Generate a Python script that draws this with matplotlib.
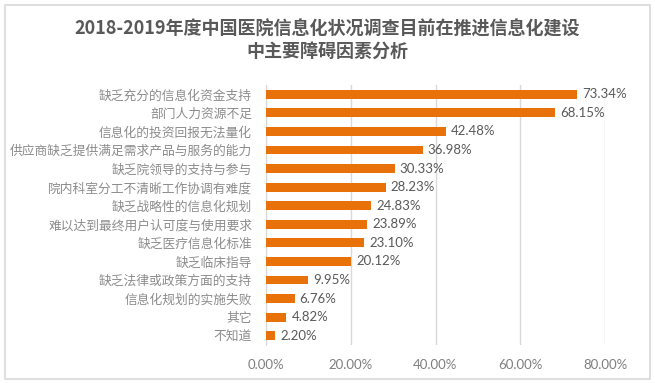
import matplotlib.pyplot as plt
from matplotlib.patches import FancyBboxPatch
from matplotlib.ticker import FuncFormatter

plt.rcParams['font.family'] = ['Noto Sans CJK SC', 'DejaVu Sans']

categories = ['缺乏充分的信息化资金支持', '部门人力资源不足', '信息化的投资回报无法量化',
              '供应商缺乏提供满足需求产品与服务的能力', '缺乏院领导的支持与参与',
              '院内科室分工不清晰工作协调有难度', '缺乏战略性的信息化规划',
              '难以达到最终用户认可度与使用要求', '缺乏医疗信息化标准', '缺乏临床指导',
              '缺乏法律或政策方面的支持', '信息化规划的实施失败', '其它', '不知道']
values = [73.34, 68.15, 42.48, 36.98, 30.33, 28.23, 24.83, 23.89, 23.10, 20.12,
          9.95, 6.76, 4.82, 2.20]
xticks = [0, 20, 40, 60, 80]

fig = plt.figure(figsize=(6.55, 3.83), dpi=100)
W, H = 655, 383

# outer frame
fig.patches.append(FancyBboxPatch((5 / W, 4 / H), 645 / W, 374 / H,
                                  boxstyle='square,pad=0', transform=fig.transFigure,
                                  fill=False, edgecolor='#d9d9d9', linewidth=1.2))

ax = fig.add_axes([266 / W, 1 - 345 / H, (605 - 266) / W, (345 - 85) / H])

y = list(range(len(categories)))
ax.barh(y, values, height=0.47, color='#E8710A', zorder=3)
for yi, v in zip(y, values):
    ax.text(v + 1.2, yi, f'{v:.2f}%', va='center', ha='left', fontsize=9.5,
            color='#595959', family=['Lato'])

ax.set_ylim(len(categories) - 0.5, -0.5)
ax.set_xlim(0, 80)
ax.set_yticks(y)
ax.set_yticklabels(categories, fontsize=9.2, color='#8c8c8c')
ax.set_xticks(xticks)
ax.xaxis.set_major_formatter(FuncFormatter(lambda v, p: f'{v:.2f}%'))
ax.tick_params(axis='x', length=0, labelsize=9.5, labelcolor='#7f7f7f', pad=10)
ax.tick_params(axis='y', length=0, pad=10)
for lbl in ax.get_xticklabels():
    lbl.set_family(['Lato'])
ax.grid(axis='x', color='#d9d9d9', linewidth=1, zorder=0)
for s in ['top', 'right', 'bottom']:
    ax.spines[s].set_visible(False)
ax.spines['left'].set_color('#d9d9d9')

fig.text(0.5, 1 - 29 / H, '2018-2019年度中国医院信息化状况调查目前在推进信息化建设',
         ha='center', va='center', fontsize=13, fontweight='bold', color='#595959')
fig.text(0.5, 1 - 52 / H, '中主要障碍因素分析',
         ha='center', va='center', fontsize=13, fontweight='bold', color='#595959')

fig.savefig('out.png', dpi=100)
